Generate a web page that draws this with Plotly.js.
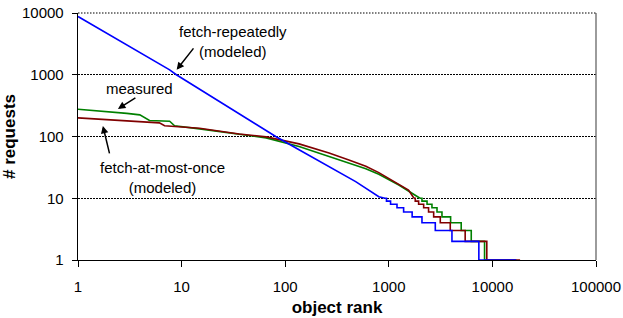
<!DOCTYPE html>
<html>
<head>
<meta charset="utf-8">
<script src="https://cdn.plot.ly/plotly-3.0.1.min.js"></script>
<style>html,body{margin:0;padding:0;background:#fff;}#chart{width:623px;height:318px;}</style>
</head>
<body>
<div id="chart"></div>
<script>
// fetch-repeatedly (modeled) — smooth head and stepped tail
const repRank = [1, 2.53, 7.67, 8.9, 14.9, 29, 45, 81, 136, 265, 479, 801, 917];
const repReq  = [8770, 3580, 1200, 1000, 585, 295, 186, 100, 61, 32.5, 18.6, 10.6, 10];
const repStepRank = [917, 950, 1040, 1200, 1390, 1680, 2090, 2810, 4070, 7400, 17000];
const repStepReq  = [10, 9, 8, 7, 6, 5, 4, 3, 2, 1, 1];

// measured
const measRank = [1, 1.63, 2.96, 3.95, 4.9, 7.67, 8.56, 14.9, 36, 65.5, 136, 265, 412, 600, 801, 1250, 2000];
const measReq  = [277, 260, 237, 224, 182, 177, 149, 133, 108, 95, 69, 47, 37.3, 30, 24.5, 16.4, 10];
const measStepRank = [2000, 2090, 2340, 2610, 2920, 3260, 3950, 5000, 6250, 8400, 17000];
const measStepReq  = [10, 9, 8, 7, 6, 5, 4, 3, 2, 1, 1];

// fetch-at-most-once (modeled)
const onceRank = [1, 2.53, 6.1, 6.85, 14.9, 36, 65.5, 136, 265, 412, 600, 801, 1040, 1550, 1750];
const onceReq  = [200, 182, 166, 149, 136, 110, 98.5, 76, 54, 41.8, 33, 26, 20, 13.6, 10];
const onceStepRank = [1750, 1800, 1940, 2170, 2420, 2710, 3140, 3920, 5460, 8830, 18500];
const onceStepReq  = [10, 9, 8, 7, 6, 5, 4, 3, 2, 1, 1];

const xTickVals = [1, 10, 100, 1000, 10000, 100000];
const xTickText = ['1', '10', '100', '1000', '10000', '100000'];
const yTickVals = [1, 10, 100, 1000, 10000];
const yTickText = ['1', '10', '100', '1000', '10000'];

const GREEN = '#008000', RED = '#800000', BLUE = '#0000ff';
const LW = 1.6;

const traces = [
  {x: measRank, y: measReq, mode: 'lines', line: {color: GREEN, width: LW}, name: 'measured'},
  {x: measStepRank, y: measStepReq, mode: 'lines', line: {color: GREEN, width: LW, shape: 'hv'}, name: 'measured'},
  {x: onceRank, y: onceReq, mode: 'lines', line: {color: RED, width: LW}, name: 'fetch-at-most-once'},
  {x: onceStepRank, y: onceStepReq, mode: 'lines', line: {color: RED, width: LW, shape: 'hv'}, name: 'fetch-at-most-once'},
  {x: repRank, y: repReq, mode: 'lines', line: {color: BLUE, width: LW}, name: 'fetch-repeatedly'},
  {x: repStepRank, y: repStepReq, mode: 'lines', line: {color: BLUE, width: LW, shape: 'hv'}, name: 'fetch-repeatedly'}
];

const FONT = 'Liberation Sans, Arial, Helvetica, sans-serif';
const textFont = {family: FONT, size: 15, color: '#000'};

const layout = {
  width: 623, height: 318,
  margin: {l: 78, r: 27, t: 13, b: 58},
  paper_bgcolor: '#fff', plot_bgcolor: '#fff',
  showlegend: false,
  font: {family: FONT, size: 15, color: '#000'},
  xaxis: {
    type: 'log', range: [0, 5],
    tickvals: xTickVals, ticktext: xTickText,
    ticks: 'outside', ticklen: 6, tickcolor: '#000', tickwidth: 1,
    showline: true, linecolor: '#000', linewidth: 1.3,
    showgrid: false, zeroline: false,
    ticklabelstandoff: 7,
    tickfont: {family: FONT, size: 15, color: '#000'},
    title: {text: '<b>object rank</b>', font: {family: FONT, size: 17, color: '#000'}, standoff: 6}
  },
  yaxis: {
    type: 'log', range: [0, 4],
    tickvals: yTickVals, ticktext: yTickText,
    ticks: 'outside', ticklen: 5, tickcolor: '#000', tickwidth: 1,
    showline: true, linecolor: '#000', linewidth: 1.3,
    showgrid: true, gridcolor: '#000', gridwidth: 1.2, griddash: '1.5px,1.5px',
    zeroline: false,
    ticklabelstandoff: 5,
    tickfont: {family: FONT, size: 15, color: '#000'},
    title: {text: '<b># requests</b>', font: {family: FONT, size: 17, color: '#000'}, standoff: 10}
  },
  shapes: [
    {type: 'line', xref: 'paper', yref: 'paper', x0: 1, x1: 1, y0: 0, y1: 1,
     line: {color: '#666', width: 1.3}},
    {type: 'line', xref: 'paper', yref: 'paper', x0: 0, x1: 1, y0: 1, y1: 1,
     line: {color: '#000', width: 1.2, dash: '1.5px,1.5px'}}
  ],
  annotations: [
    {x: 1.5, y: 3.541, xref: 'x', yref: 'y', text: 'fetch-repeatedly<br>(modeled)', showarrow: false, font: textFont, align: 'center'},
    {x: 0.596, y: 2.771, xref: 'x', yref: 'y', text: 'measured', showarrow: false, font: textFont},
    {x: 0.817, y: 1.337, xref: 'x', yref: 'y', text: 'fetch-at-most-once<br>(modeled)', showarrow: false, font: textFont, align: 'center'},
    {x: 0.952, y: 3.079, xref: 'x', yref: 'y', text: '', showarrow: true, ax: 18, ay: -23, arrowhead: 2, arrowsize: 1, arrowwidth: 1.5, arrowcolor: '#000'},
    {x: 0.385, y: 2.447, xref: 'x', yref: 'y', text: '', showarrow: true, ax: 19, ay: -12, arrowhead: 2, arrowsize: 1, arrowwidth: 1.5, arrowcolor: '#000'},
    {x: 0.240, y: 2.172, xref: 'x', yref: 'y', text: '', showarrow: true, ax: 7, ay: 29, arrowhead: 2, arrowsize: 1, arrowwidth: 1.5, arrowcolor: '#000'}
  ]
};

Plotly.newPlot('chart', traces, layout, {staticPlot: true, displayModeBar: false});
</script>
</body>
</html>
